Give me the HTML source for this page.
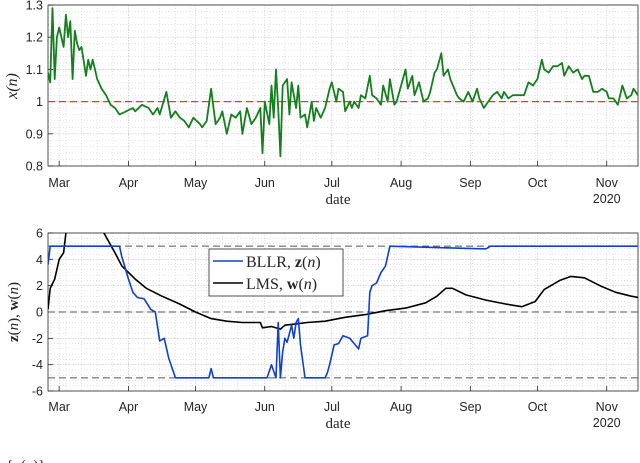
<!DOCTYPE html>
<html><head><meta charset="utf-8"><style>
html,body{margin:0;padding:0;background:#fff;width:640px;height:463px;overflow:hidden}
svg{display:block}
.t{font-family:"Liberation Sans",sans-serif;font-size:12.5px;fill:#262626}
.s{font-family:"Liberation Serif",serif;fill:#262626}
</style></head><body>
<svg id="c" width="640" height="463" xmlns="http://www.w3.org/2000/svg"></svg>
<script>
// ---- data (day 0 = Feb 25, 2020) ----
const monthLabels=["Mar","Apr","May","Jun","Jul","Aug","Sep","Oct","Nov"];
const monthDays=[5,36,66,97,127,158,189,219,250];
const xDays=[0,1,2,3,4,5,7,8,9,10,11,12,13,14,15,17,18,19,20,22,24,26,28,30,32,35,38,39,42,45,47,49,50,53,55,57,59,61,63,65,68,69,71,73,75,77,78,80,82,84,86,87,89,91,93,95,96,97,99,100,101,102,103,104,105,107,108,109,111,112,113,115,116,118,119,120,122,124,126,127,129,130,132,133,135,136,137,139,140,142,144,145,147,149,150,152,153,155,156,158,160,161,163,164,166,168,170,171,173,174,176,177,179,180,183,184,186,188,190,192,193,195,197,199,201,203,204,206,208,211,213,215,217,219,221,222,224,226,228,230,231,233,235,237,239,240,242,244,246,248,250,251,253,255,257,259,261,262,264];
const xVals=[1.09,1.06,1.29,1.07,1.2,1.23,1.17,1.27,1.2,1.25,1.07,1.22,1.18,1.16,1.17,1.08,1.13,1.1,1.13,1.07,1.04,1.02,0.99,0.98,0.96,0.97,0.98,0.97,0.99,0.98,0.96,0.98,0.96,1.03,0.95,0.97,0.95,0.94,0.92,0.95,0.93,0.92,0.94,1.04,0.93,0.95,0.97,0.9,0.96,0.95,0.97,0.9,0.98,0.93,0.95,0.98,0.84,1.0,0.93,1.05,0.95,1.1,0.98,0.83,1.05,1.07,0.96,1.06,0.98,1.05,0.95,0.96,0.92,1.0,0.94,0.98,0.95,0.98,1.04,1.06,1.0,1.04,1.03,0.97,1.0,0.98,1.0,0.98,1.02,1.01,1.08,1.02,1.01,0.99,1.05,1.0,1.07,0.99,1.0,1.05,1.1,1.04,1.08,1.02,1.06,1.0,1.01,1.03,1.09,1.1,1.15,1.08,1.1,1.07,1.02,1.01,1.0,1.03,1.0,1.04,1.01,0.98,1.0,1.02,1.03,1.01,1.03,1.01,1.02,1.02,1.02,1.06,1.05,1.07,1.13,1.1,1.09,1.11,1.11,1.12,1.08,1.11,1.09,1.1,1.07,1.08,1.08,1.03,1.03,1.04,1.03,1.01,1.01,0.99,1.05,1.01,1.02,1.04,1.02];
const zDays=[0,1,32,33,36,38,40,43,46,48,50,52,54,56,57,72,73,74,98,100,101,102,103,104,105,106,107,109,110,111,112,113,115,124,125,126,128,130,132,135,137,139,140,143,144,145,147,149,151,153,194,196,198,264];
const zVals=[3.6,5,5,4.2,2.5,1.5,1.1,1.0,0.2,0,-2.2,-2.0,-3.5,-4.5,-5,-5,-4.3,-5,-5,-4,-4.5,-5,-0.8,-5,-3,-2,-2.3,-1,-2,-0.8,-0.5,-2.5,-5,-5,-4.6,-4,-2.5,-2.4,-1.8,-2,-2.4,-2.8,-2,-1.8,1.5,2,2.2,3,3.5,5,4.8,4.8,5,5];
const wDays=[0,1,3,5,7,8,9,17,25,30,33,39,44,51,59,66,73,80,87,95,96,100,104,106,111,116,124,133,142,151,160,169,174,178,181,187,196,205,212,218,222,229,234,240,247,254,261,264];
const wVals=[0.2,1.8,2.5,4,4.5,6,7,10,6,4.5,3.5,2.5,1.8,1.2,0.6,0,-0.5,-0.7,-0.8,-0.8,-1.2,-1.1,-1.3,-1.0,-0.9,-0.8,-0.7,-0.4,-0.2,0.1,0.3,0.7,1.2,1.8,1.8,1.3,0.9,0.6,0.4,0.8,1.7,2.4,2.7,2.6,2.0,1.5,1.2,1.1];
const topTicks=[0.8,0.9,1,1.1,1.2,1.3];
const botTicks=[-6,-4,-2,0,2,4,6];

const NS="http://www.w3.org/2000/svg";
const svg=document.getElementById('c');
function el(tag,attrs,parent,text){const e=document.createElementNS(NS,tag);for(const k in attrs)e.setAttribute(k,attrs[k]);if(text!==undefined)e.textContent=text;(parent||svg).appendChild(e);return e;}
const L=48,R=638,D0=0,D1=264;
const sx=d=>L+(d-D0)*(R-L)/(D1-D0);

function panel(name,top,bot,ymin,ymax,ticks,minorStep,fmt,labY,dateY){
  const sy=v=>bot-(v-ymin)*(bot-top)/(ymax-ymin);
  const g=el('g',{},svg);
  
  
  const defs=el('defs',{},g);
  const cp=el('clipPath',{id:name+'-clip'},defs);
  el('rect',{x:L,y:top,width:R-L,height:bot-top},cp);
  const grid=el('g',{stroke:'#d0d0d0','stroke-width':0.6,'stroke-dasharray':'1,2'},g);
  
  
  for(let d=1;d<D1;d+=7){el('line',{x1:sx(d),x2:sx(d),y1:top,y2:bot},grid);}
  for(let v=ymin;v<=ymax+1e-9;v+=minorStep){el('line',{x1:L,x2:R,y1:sy(v),y2:sy(v)},grid);}
  const mg=el('g',{stroke:'#c4c4c4','stroke-width':0.7,'stroke-dasharray':'1,1.5'},g);
  monthDays.forEach(d=>el('line',{x1:sx(d),x2:sx(d),y1:top,y2:bot},mg));
  ticks.forEach(v=>el('line',{x1:L,x2:R,y1:sy(v),y2:sy(v)},mg));
  const box=el('rect',{x:L,y:top,width:R-L,height:bot-top,fill:'none',stroke:'#262626','stroke-width':0.8},g);
  
  
  ticks.forEach(v=>{
    el('line',{x1:L,x2:L+5,y1:sy(v),y2:sy(v),stroke:'#262626','stroke-width':0.8},g);
    const t=el('text',{x:L-5,y:sy(v)+4.5,'text-anchor':'end',class:'t'},g,fmt(v));
    
    
  });
  monthDays.forEach((d,i)=>{
    el('line',{x1:sx(d),x2:sx(d),y1:bot,y2:bot-5,stroke:'#262626','stroke-width':0.8},g);
    const t=el('text',{x:sx(d),y:labY,'text-anchor':'middle',class:'t'},g,monthLabels[i]);
    
    
  });
  const yr=el('text',{x:sx(250),y:dateY-1,'text-anchor':'middle',class:'t'},g,'2020');
  
  
  const xl=el('text',{x:338,y:dateY,'text-anchor':'middle',class:'s','font-size':15},g,'date');
  
  
  const plot=el('g',{'clip-path':'url(#'+name+'-clip)'},g);
  return {sy,plot,g};
}
function line(p,days,vals,color,w,nm){
  const pts=days.map((d,i)=>sx(d).toFixed(1)+','+p.sy(vals[i]).toFixed(1)).join(' ');
  const e=el('polyline',{points:pts,fill:'none',stroke:color,'stroke-width':w,'stroke-linejoin':'round'},p.plot);
  
  
}

// top panel
const P1=panel('top',5,166,0.8,1.3,topTicks,0.02,v=>v===1?'1':v.toFixed(1),187,204);
const ref=el('line',{x1:L,x2:R,y1:P1.sy(1),y2:P1.sy(1),stroke:'#ff3030','stroke-width':1.2,'stroke-dasharray':'7,4'},P1.plot);


line(P1,xDays,xVals,'#157f1f',1.8,'x-series');
const yl1=el('text',{transform:'translate(17,86) rotate(-90)','text-anchor':'middle',class:'s','font-size':16,'font-style':'italic'},svg,'x(n)');



// bottom panel
const P2=panel('bottom',233,391,-6,6,botTicks,0.4,v=>String(v),411,428);
[5,0,-5].forEach(v=>{
  const d=el('line',{x1:L,x2:R,y1:P2.sy(v),y2:P2.sy(v),stroke:'#555','stroke-width':1,'stroke-dasharray':'7,4'},P2.plot);
  
  
});
line(P2,wDays,wVals,'#000',1.6,'lms-series');
line(P2,zDays,zVals,'#1040d0',1.6,'bllr-series');
const yl2=el('text',{transform:'translate(18,312) rotate(-90)','text-anchor':'middle',class:'s','font-size':15},svg);


yl2.innerHTML='<tspan font-weight="bold">z</tspan>(<tspan font-style="italic">n</tspan>), <tspan font-weight="bold">w</tspan>(<tspan font-style="italic">n</tspan>)';

// legend
const lg=el('g',{},svg);


el('rect',{x:209,y:249,width:134,height:47,fill:'#fff',stroke:'#262626','stroke-width':0.8},lg);
const e1=el('g',{},lg);


el('line',{x1:213,x2:243,y1:261,y2:261,stroke:'#1040d0','stroke-width':1.6},e1);
const t1=el('text',{x:246,y:267,class:'s','font-size':16},e1);
t1.innerHTML='BLLR, <tspan font-weight="bold">z</tspan>(<tspan font-style="italic">n</tspan>)';
const e2=el('g',{},lg);


el('line',{x1:213,x2:243,y1:283,y2:283,stroke:'#000','stroke-width':1.6},e2);
const t2=el('text',{x:246,y:289,class:'s','font-size':16},e2);
t2.innerHTML='LMS, <tspan font-weight="bold">w</tspan>(<tspan font-style="italic">n</tspan>)';

const frag=el('text',{x:6,y:470,class:'s','font-size':15},svg,'{x(n)}');


</script>
</body></html>
